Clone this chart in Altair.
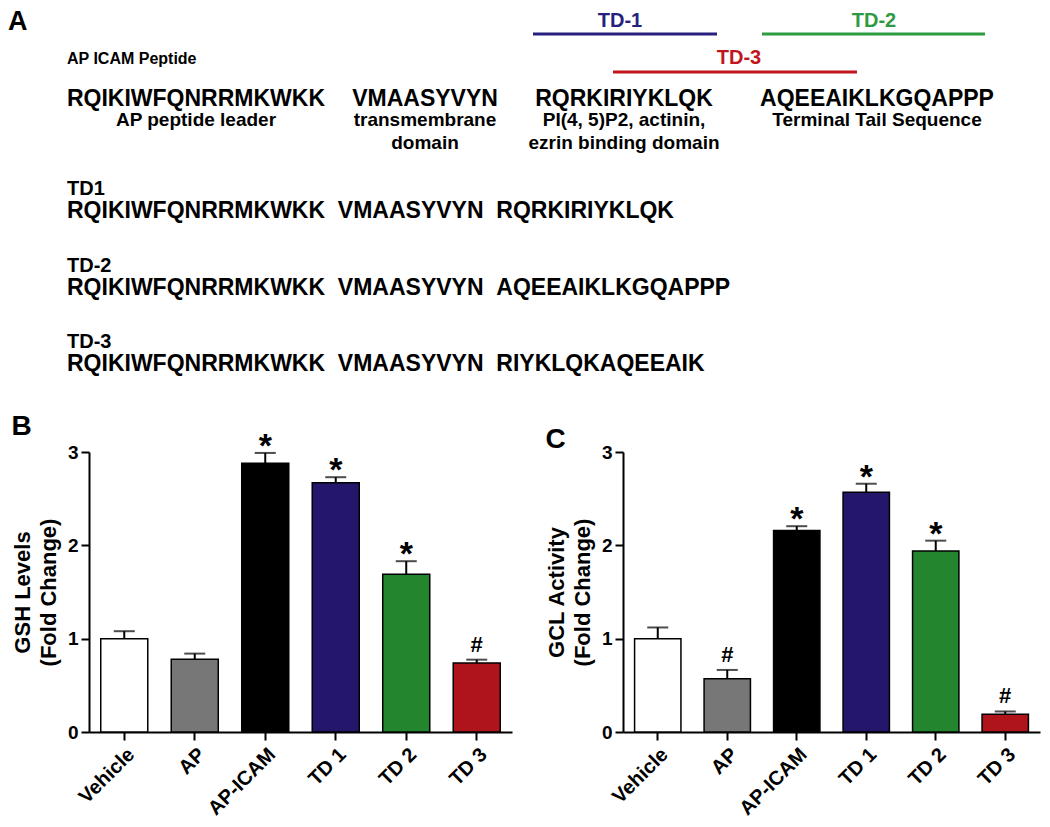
import altair as alt
import pandas as pd

F = "Liberation Sans"

# ---------------- data ----------------
categories = ["Vehicle", "AP", "AP-ICAM", "TD 1", "TD 2", "TD 3"]
bar_colors = ["#ffffff", "#777777", "#000000", "#24166b", "#23862f", "#b0141b"]

gsh_mean = [1.00, 0.78, 2.88, 2.67, 1.69, 0.74]
gsh_sem = [0.08, 0.06, 0.11, 0.06, 0.14, 0.035]
gsh_sig = ["", "", "*", "*", "*", "#"]

gcl_mean = [1.00, 0.57, 2.16, 2.57, 1.94, 0.19]
gcl_sem = [0.12, 0.095, 0.045, 0.09, 0.11, 0.03]
gcl_sig = ["", "#", "*", "*", "*", "#"]

peptide_title = "AP ICAM Peptide"
segments = ["RQIKIWFQNRRMKWKK", "VMAASYVYN", "RQRKIRIYKLQK", "AQEEAIKLKGQAPPP"]
segment_notes = [["AP peptide leader"], ["transmembrane", "domain"],
                 ["PI(4, 5)P2, actinin,", "ezrin binding domain"], ["Terminal Tail Sequence"]]
trunc_names = ["TD-1", "TD-2", "TD-3"]
trunc_colors = ["#27207f", "#2e9a42", "#c2161e"]
construct_names = ["TD1", "TD-2", "TD-3"]
construct_parts = [
    ["RQIKIWFQNRRMKWKK", "VMAASYVYN", "RQRKIRIYKLQK"],
    ["RQIKIWFQNRRMKWKK", "VMAASYVYN", "AQEEAIKLKGQAPPP"],
    ["RQIKIWFQNRRMKWKK", "VMAASYVYN", "RIYKLQKAQEEAIK"],
]

# ---------------- layout of panel A (page pixels) ----------------
LAY = dict(
    letter=(8, 8), heading=(67, 58),
    trunc_label_x=[620, 874, 739], trunc_label_y=[20, 20, 57],
    trunc_x1=[533, 762, 613], trunc_x2=[717, 985, 857], trunc_y=[33, 33, 71],
    seg_x=[196, 425, 624, 877], seg_y=98, note_y=119, note_lh=23,
    cons_x=67, cons_label_y=[188, 265, 341], cons_seq_y=[210, 287, 363],
)
A_LEFT, A_RIGHT, A_TOP, A_BOTTOM = 89, 1042, 8, 400

rows = [dict(kind="letter", text="A", x=LAY["letter"][0], y=LAY["letter"][1], name=""),
        dict(kind="heading", text=peptide_title, x=LAY["heading"][0], y=LAY["heading"][1], name="")]
for n, lx, ly in zip(trunc_names, LAY["trunc_label_x"], LAY["trunc_label_y"]):
    rows.append(dict(kind="trunc", text=n, x=lx, y=ly, name=n))
for s, sx in zip(segments, LAY["seg_x"]):
    rows.append(dict(kind="seg", text=s, x=sx, y=LAY["seg_y"], name=""))
for note, sx in zip(segment_notes, LAY["seg_x"]):
    for i, line in enumerate(note):
        rows.append(dict(kind="note", text=line, x=sx, y=LAY["note_y"] + i * LAY["note_lh"], name=""))
for n, parts, ly, sy in zip(construct_names, construct_parts, LAY["cons_label_y"], LAY["cons_seq_y"]):
    rows.append(dict(kind="cname", text=n, x=LAY["cons_x"], y=ly, name=""))
    rows.append(dict(kind="cseq", text="\u00a0\u00a0".join(parts), x=LAY["cons_x"], y=sy, name=""))
dfA = pd.DataFrame(rows)
dfL = pd.DataFrame(dict(name=trunc_names, x=LAY["trunc_x1"], x2=LAY["trunc_x2"], y=LAY["trunc_y"]))

xA = alt.X("x:Q", scale=alt.Scale(domain=[A_LEFT, A_RIGHT], nice=False, zero=False), axis=None)
yA = alt.Y("y:Q", scale=alt.Scale(domain=[A_TOP, A_BOTTOM], nice=False, zero=False, reverse=True), axis=None)
tcol = alt.Color("name:N", scale=alt.Scale(domain=trunc_names, range=trunc_colors), legend=None)

baseA = alt.Chart(dfA)


def txt(kind, **kw):
    return baseA.transform_filter(alt.datum.kind == kind).mark_text(
        font=F, fontWeight="bold", color="black", **kw).encode(x=xA, y=yA, text="text:N")


layersA = [
    txt("letter", align="left", baseline="top", fontSize=27),
    txt("heading", align="left", baseline="middle", fontSize=16),
    baseA.transform_filter(alt.datum.kind == "trunc").mark_text(
        font=F, fontWeight="bold", fontSize=20, align="center", baseline="middle").encode(
        x=xA, y=yA, text="text:N", color=tcol),
    alt.Chart(dfL).mark_rule(strokeWidth=3).encode(x=xA, x2="x2:Q", y=yA, color=tcol),
    txt("seg", align="center", baseline="middle", fontSize=23),
    txt("note", align="center", baseline="middle", fontSize=19),
    txt("cname", align="left", baseline="middle", fontSize=20),
    txt("cseq", align="left", baseline="middle", fontSize=23),
]
panelA = alt.layer(*layersA).properties(width=A_RIGHT - A_LEFT, height=A_BOTTOM - A_TOP)


# ---------------- bar panels ----------------
def bar_panel(means, sems, sigs, ytitle, letter, width):
    df = pd.DataFrame(dict(cat=categories, mean=means, top=[m + s for m, s in zip(means, sems)], sig=sigs))
    x = alt.X("cat:N", sort=categories,
              scale=alt.Scale(domain=categories, paddingInner=0.333, paddingOuter=0.1667),
              axis=alt.Axis(title=None, labelAngle=-45, labelFontSize=20, labelFont=F,
                            labelFontWeight="bold", labelColor="black", tickSize=8, tickWidth=2,
                            tickColor="black", domainWidth=2, domainColor="black",
                            labelPadding=4, grid=False))
    y = alt.Y("mean:Q", scale=alt.Scale(domain=[0, 3], nice=False),
              axis=alt.Axis(values=[0, 1, 2, 3], format="d", title=ytitle, titleFont=F,
                            titleFontSize=22, titleFontWeight="bold", titleLineHeight=26,
                            titleColor="black", titlePadding=7, labelFont=F, labelFontSize=19,
                            labelFontWeight="bold", labelColor="black", labelPadding=3,
                            tickSize=8, tickWidth=2, tickColor="black", domainWidth=2,
                            domainColor="black", grid=False))
    base = alt.Chart(df)
    bars = base.mark_bar(stroke="black", strokeWidth=1.5).encode(
        x=x, y=y,
        fill=alt.Fill("cat:N", scale=alt.Scale(domain=categories, range=bar_colors), legend=None))
    err = base.mark_rule(strokeWidth=2, color="black").encode(x=x, y="mean:Q", y2="top:Q")
    cap = base.mark_tick(size=21, thickness=2, color="black").encode(x=x, y="top:Q")
    star = base.transform_filter(alt.datum.sig == "*").mark_text(
        font=F, fontSize=34, fontWeight="bold", baseline="alphabetic", dy=4, color="black").encode(
        x=x, y="top:Q", text="sig:N")
    hsh = base.transform_filter(alt.datum.sig == "#").mark_text(
        font=F, fontSize=22, fontWeight="bold", baseline="alphabetic", dy=-8, color="black").encode(
        x=x, y="top:Q", text="sig:N")
    return alt.layer(bars, err, cap, star, hsh).properties(
        width=width, height=280,
        title=alt.Title(letter, anchor="start", frame="bounds", fontSize=28, fontWeight="bold",
                        font=F, color="black", offset=-11))


panelB = bar_panel(gsh_mean, gsh_sem, gsh_sig, ["GSH Levels", "(Fold Change)"], "B", 423)
panelC = bar_panel(gcl_mean, gcl_sem, gcl_sig, ["GCL Activity", "(Fold Change)"], "C", 417)

row = alt.hconcat(panelB, panelC, spacing=33)
chart = alt.vconcat(panelA, row, spacing=11).properties(padding=0).configure(
    font=F, view=alt.ViewConfig(stroke=None))

chart.save("out.html", embed_options={"renderer": "svg", "actions": False})
